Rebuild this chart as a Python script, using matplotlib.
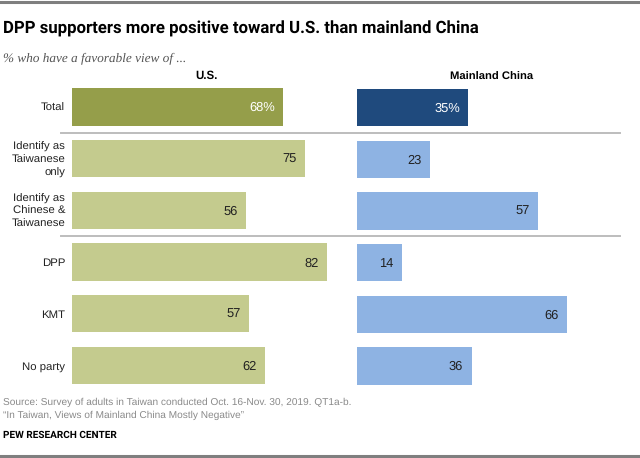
import matplotlib
matplotlib.use("Agg")
import matplotlib.pyplot as plt
from matplotlib.lines import Line2D

categories = ["Total", "Identify as\nTaiwanese\nonly", "Identify as\nChinese &\nTaiwanese", "DPP", "KMT", "No party"]
usValues = [68, 75, 56, 82, 57, 62]
chinaValues = [35, 23, 57, 14, 66, 36]

W, H = 640, 458
sans = "Liberation Sans"
plt.rcParams["text.hinting"] = "none"

fig = plt.figure(figsize=(W / 100, H / 100), dpi=100)

def pixelAxes(x0, x1, y0, y1):
    # y measured from top of the image
    return fig.add_axes([x0 / W, 1 - y1 / H, (x1 - x0) / W, (y1 - y0) / H])

def drawPanel(ax, values, totalColor, color, xmax):
    colors = [totalColor] + [color] * (len(values) - 1)
    ax.barh(range(len(values)), values, height=0.72, color=colors)
    ax.set_xlim(0, xmax)
    ax.set_ylim(5.5, -0.5)
    ax.axis("off")
    for i, v in enumerate(values):
        label = f"{v}%" if i == 0 else str(v)
        # 8.5px in from the bar end, 1px below centre
        ax.annotate(label, (v, i), xytext=(-6.1, -0.7), textcoords="offset points", ha="right", va="center",
                    fontsize=9.3, family=sans, color="white" if i == 0 else "#222222")

# row spacing 51.7px, first row centred at y=107
top = 107 - 51.7 / 2
bottom = top + 51.7 * 6
axUs = pixelAxes(72, 327, top, bottom)
axChina = pixelAxes(357, 567, top + 0.5, bottom + 0.5)
drawPanel(axUs, usValues, "#959E4A", "#C4CB8E", 82)
drawPanel(axChina, chinaValues, "#1F4A7D", "#8EB3E3", 66)

for i, cat in enumerate(categories):
    axUs.annotate(cat, (0, i), xytext=(-5, -0.8), textcoords="offset points", ha="right", va="center",
                  fontsize=8.2, family=sans, color="#222222", linespacing=1.3)

def figText(x, y, s, **kw):
    fig.text(x / W, 1 - y / H, s, **kw)

figText(3, 28.5, "DPP supporters more positive toward U.S. than mainland China", fontsize=12.1,
        fontweight="bold", family="Roboto", color="black", va="center")
figText(3, 58, "% who have a favorable view of ...", fontsize=9.5, style="italic",
        family="Liberation Serif", color="#555555", va="center")
figText(207, 75.5, "U.S.", fontsize=8.3, fontweight="bold", family=sans, ha="center", va="center", color="black")
figText(492, 77.5, "Mainland China", fontsize=8.1, fontweight="bold", family=sans, ha="center", va="center", color="black")

figText(3, 402, "Source: Survey of adults in Taiwan conducted Oct. 16-Nov. 30, 2019. QT1a-b.", fontsize=7.3,
        family=sans, color="#8A8A8A", va="center")
figText(3, 415, "\u201cIn Taiwan, Views of Mainland China Mostly Negative\u201d", fontsize=7.3,
        family=sans, color="#8A8A8A", va="center")
figText(3, 435, "PEW RESEARCH CENTER", fontsize=7.2, fontweight="bold", family="Roboto", color="black", va="center")

# separators and the top/bottom rules
for y in (133.5, 236):
    fig.add_artist(Line2D([61 / W, 620 / W], [1 - y / H] * 2, color="#BDBDBD", lw=1.4))
for y in (1.5, 455.5):
    fig.add_artist(Line2D([0, 1], [1 - y / H] * 2, color="#7F7F7F", lw=2.2))

fig.savefig("out.png", dpi=100)
